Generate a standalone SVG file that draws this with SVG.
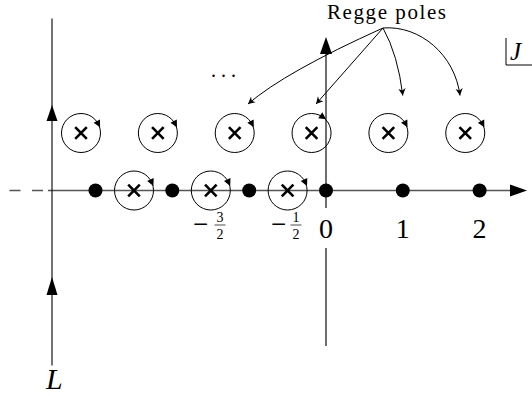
<svg xmlns="http://www.w3.org/2000/svg" width="532" height="396" viewBox="0 0 532 396">
<defs>
<marker id="stealth" viewBox="-8 -5 9 10" markerWidth="9" markerHeight="10" refX="0" refY="0" orient="auto" markerUnits="userSpaceOnUse">
<path d="M0,0 L-7,-3.6 L-5,0 L-7,3.6 z" fill="#000"/>
</marker>
<path id="cwtip" d="M4,0 L-3,-3.6 L-3,3.6 z" fill="#000"/>
<g id="xmark"><path d="M-5.8,-5.8 L5.8,5.8 M-5.8,5.8 L5.8,-5.8" stroke="#000" stroke-width="2.6" fill="none"/></g>
</defs>
<style>
.pole{fill:none;stroke:#000;stroke-width:1}
.dot{fill:#000}
.ax{stroke:#555;stroke-width:1.7;fill:none}
.dash{stroke:#555;stroke-width:1.5;fill:none;stroke-dasharray:11 11.5}
.lax{stroke:#000;stroke-width:1.1;fill:none}
.head{fill:#000}
.conn{fill:none;stroke:#000;stroke-width:1;marker-end:url(#stealth)}
.cm{font-family:"Liberation Serif","Times New Roman",serif;fill:#000}
.it{font-style:italic}
</style>

<g id="axes">
<line class="dash" x1="9.5" y1="190.5" x2="48" y2="190.5"/>
<line class="ax" x1="48" y1="190.5" x2="512" y2="190.5"/>
<path class="head" d="M527,190.5 L510,184.5 L510,196.5 z"/>
<line class="ax" x1="326" y1="50" x2="326" y2="346"/>
<path class="head" d="M326,37 L320,54 L332,54 z"/>
<line class="lax" x1="52" y1="18.5" x2="52" y2="365.5"/>
<path class="head" d="M52,105 L46.5,121 L57.5,121 z"/>
<path class="head" d="M52,277 L46.5,295 L57.5,295 z"/>
</g>

<g id="dots">
<circle class="dot" cx="95.5" cy="190.5" r="7"/>
<circle class="dot" cx="172.3" cy="190.5" r="7"/>
<circle class="dot" cx="249.2" cy="190.5" r="7"/>
<circle class="dot" cx="326" cy="190.5" r="7"/>
<circle class="dot" cx="402.8" cy="190.5" r="7"/>
<circle class="dot" cx="479.6" cy="190.5" r="7"/>
</g>

<g id="pole-t1" transform="translate(81,133)"><circle class="pole" r="19.5"/><use href="#xmark"/><use href="#cwtip" transform="translate(17.2,-9.2) rotate(62)"/></g>
<g id="pole-t2" transform="translate(157.85,133)"><circle class="pole" r="19.5"/><use href="#xmark"/><use href="#cwtip" transform="translate(17.2,-9.2) rotate(62)"/></g>
<g id="pole-t3" transform="translate(234.7,133)"><circle class="pole" r="19.5"/><use href="#xmark"/><use href="#cwtip" transform="translate(17.2,-9.2) rotate(62)"/></g>
<g id="pole-t4" transform="translate(311.55,133)"><circle class="pole" r="19.5"/><use href="#xmark"/><use href="#cwtip" transform="translate(11.2,-16) rotate(35)"/></g>
<g id="pole-t5" transform="translate(388.4,133)"><circle class="pole" r="19.5"/><use href="#xmark"/><use href="#cwtip" transform="translate(17.2,-9.2) rotate(62)"/></g>
<g id="pole-t6" transform="translate(465.25,133)"><circle class="pole" r="19.5"/><use href="#xmark"/><use href="#cwtip" transform="translate(17.2,-9.2) rotate(62)"/></g>

<g id="pole-b1" transform="translate(134,190.5)"><circle class="pole" r="19.5"/><use href="#xmark"/><use href="#cwtip" transform="translate(17.7,-8.2) rotate(65)"/></g>
<g id="pole-b2" transform="translate(210.8,190.5)"><circle class="pole" r="19.5"/><use href="#xmark"/><use href="#cwtip" transform="translate(17.7,-8.2) rotate(65)"/></g>
<g id="pole-b3" transform="translate(287.6,190.5)"><circle class="pole" r="19.5"/><use href="#xmark"/><use href="#cwtip" transform="translate(17.7,-8.2) rotate(65)"/></g>

<g id="labels">
<rect x="316" y="208" width="20" height="40" fill="#fff"/>
<text class="cm" x="326" y="237.5" font-size="28" text-anchor="middle">0</text>
<text class="cm" x="402.8" y="237.5" font-size="28" text-anchor="middle">1</text>
<text class="cm" x="479.6" y="237.5" font-size="28" text-anchor="middle">2</text>
<text class="cm" x="193" y="232.5" font-size="27">−</text>
<text class="cm" x="220" y="222" font-size="14" text-anchor="middle">3</text>
<line x1="214.5" y1="225" x2="225.5" y2="225" stroke="#000" stroke-width="0.7"/>
<text class="cm" x="220" y="239" font-size="14" text-anchor="middle">2</text>
<text class="cm" x="271" y="232.5" font-size="27">−</text>
<text class="cm" x="296" y="222" font-size="14" text-anchor="middle">1</text>
<line x1="290.5" y1="225" x2="301.5" y2="225" stroke="#000" stroke-width="0.7"/>
<text class="cm" x="296" y="239" font-size="14" text-anchor="middle">2</text>
<text class="cm" x="211" y="76.5" font-size="20" letter-spacing="5">...</text>
<text class="cm" x="327" y="19" font-size="21" textLength="119" lengthAdjust="spacing">Regge poles</text>
<text class="cm it" x="46" y="389" font-size="30">L</text>
<g id="j-box">
<path d="M506,38 L506,65 L532,65" fill="none" stroke="#000" stroke-width="1"/>
<text class="cm it" x="510" y="60" font-size="25">J</text>
</g>
</g>

<g id="connectors">
<path class="conn" d="M383,28 Q285,72 248,104"/>
<path class="conn" d="M383,28 L316,104"/>
<path class="conn" d="M383,28 Q398,55 402.8,95.5"/>
<path class="conn" d="M383,28 C420,25 455,55 460,95.5"/>
</g>
</svg>
